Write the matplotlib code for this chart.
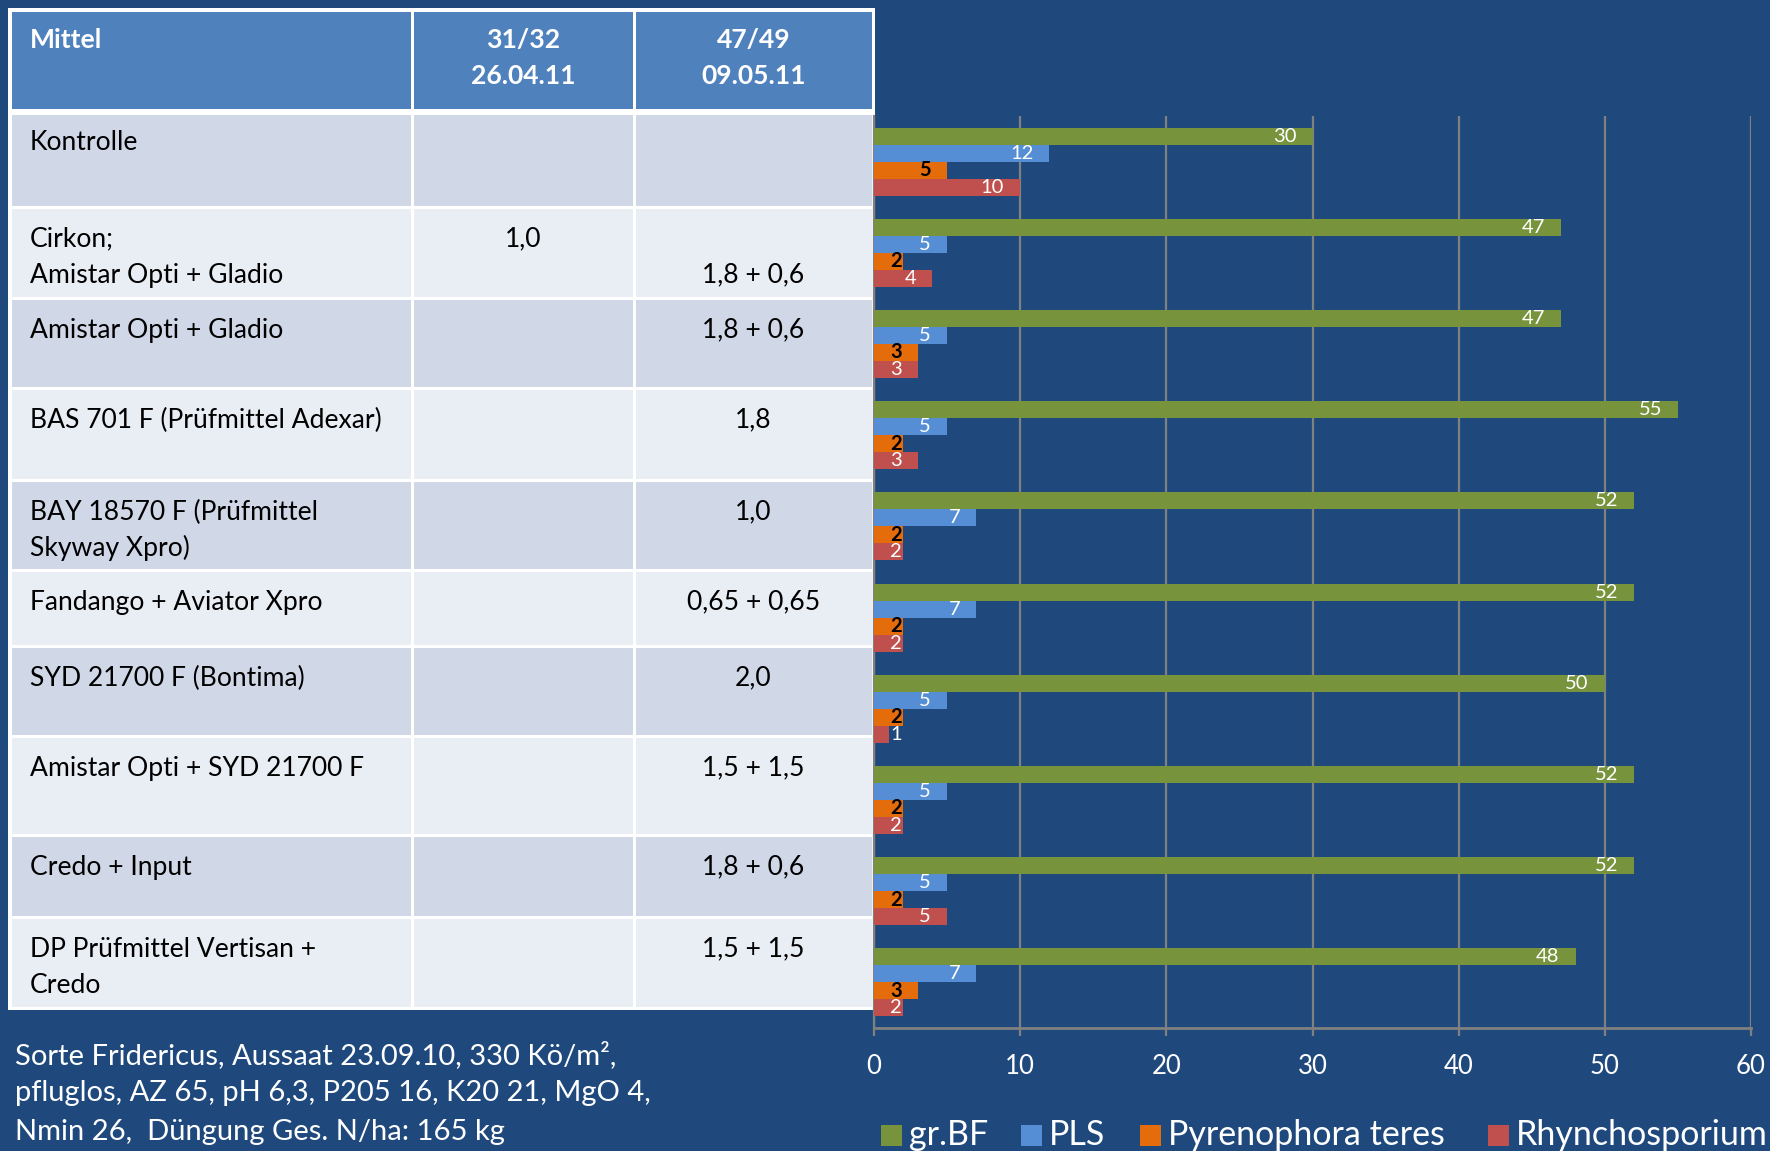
import matplotlib.pyplot as plt
from matplotlib.patches import Rectangle
import numpy as np

plt.rcParams['font.family'] = ['Lato', 'DejaVu Sans']

BG = '#1F497D'
HEADER = '#4F81BD'
ROW_DARK = '#D0D8E8'
ROW_LIGHT = '#E9EDF4'
GRID = '#808080'

# table content
header = ['Mittel', '31/32\n26.04.11', '47/49\n09.05.11']
mittel = ['Kontrolle',
          'Cirkon;\nAmistar Opti + Gladio',
          'Amistar Opti + Gladio',
          'BAS 701 F (Prüfmittel Adexar)',
          'BAY 18570 F (Prüfmittel\nSkyway Xpro)',
          'Fandango + Aviator Xpro',
          'SYD 21700 F (Bontima)',
          'Amistar Opti + SYD 21700 F',
          'Credo + Input',
          'DP Prüfmittel Vertisan +\nCredo']
dose_31_32 = ['', '1,0', '', '', '', '', '', '', '', '']
dose_47_49 = ['', '\n1,8 + 0,6', '1,8 + 0,6', '1,8', '1,0', '0,65 + 0,65',
              '2,0', '1,5 + 1,5', '1,8 + 0,6', '1,5 + 1,5']

# chart data (one value per table row)
series = ['gr.BF', 'PLS', 'Pyrenophora teres', 'Rhynchosporium']
gr_bf = [30, 47, 47, 55, 52, 52, 50, 52, 52, 48]
pls = [12, 5, 5, 5, 7, 7, 5, 5, 5, 7]
pyrenophora = [5, 2, 3, 2, 2, 2, 2, 2, 2, 3]
rhyncho = [10, 4, 3, 3, 2, 2, 1, 2, 5, 2]
colors = ['#77933C', '#558ED5', '#E46C0A', '#C0504D']

footnote = ['Sorte Fridericus, Aussaat 23.09.10, 330 Kö/m²,',
            'pfluglos, AZ 65, pH 6,3, P205 16, K20 21, MgO 4,',
            'Nmin 26,  Düngung Ges. N/ha: 165 kg']

W, H = 1770, 1151
fig = plt.figure(figsize=(W / 100, H / 100), dpi=100, facecolor=BG)

# ---- table, drawn in pixel coordinates ----
tab = fig.add_axes([0, 0, 1, 1])
tab.set_xlim(0, W)
tab.set_ylim(H, 0)
tab.axis('off')

col_edges = [10, 412, 634, 873]
row_edges = [10, 110, 207, 298, 388, 480, 570, 646, 736, 835, 917, 1008]

tab.add_patch(Rectangle((8, 8), 867, 1002, color='white', lw=0))
for r in range(len(row_edges) - 1):
    top, bot = row_edges[r], row_edges[r + 1]
    if r == 0:
        fc = HEADER
        top_in, bot_in = top + 1.5, bot - 1
    else:
        fc = ROW_DARK if r % 2 == 1 else ROW_LIGHT
        top_in = top + (5 if r == 1 else 1.5)
        bot_in = bot - 1.5
    for c in range(3):
        left, right = col_edges[c], col_edges[c + 1]
        tab.add_patch(Rectangle((left + 1.5, top_in), right - left - 3,
                                bot_in - top_in, color=fc, lw=0))


def cell_text(text, r, c, bold=False, color='black', size=19.1):
    top = row_edges[r]
    if c == 0:
        x, ha = col_edges[0] + 20, 'left'
    else:
        x, ha = (col_edges[c] + col_edges[c + 1]) / 2, 'center'
    first = 30 if r == 0 else 32
    for i, line in enumerate(text.split('\n')):
        if line:
            tab.text(x, top + first + i * 36, line, ha=ha, va='center',
                     fontsize=size, color=color,
                     fontweight='bold' if bold else 'normal')


for c, h in enumerate(header):
    cell_text(h, 0, c, bold=True, color='white')
for i in range(len(mittel)):
    cell_text(mittel[i], i + 1, 0)
    cell_text(dose_31_32[i], i + 1, 1)
    cell_text(dose_47_49[i], i + 1, 2)

for i, line in enumerate(footnote):
    tab.text(15, 1055 + i * 38.5, line, ha='left', va='center',
             fontsize=21, color='white')

# ---- bar chart ----
ax = fig.add_axes([874 / W, 1 - 1028 / H, 877 / W, 912 / H])
ax.set_facecolor('none')
y = np.arange(len(gr_bf))
h = 0.186
values = [gr_bf, pls, pyrenophora, rhyncho]
for k, (name, vals, col) in enumerate(zip(series, values, colors)):
    yk = y + (k - 1.5) * h
    ax.barh(yk, vals, height=h, color=col, label=name, zorder=3)
    for yy, v in zip(yk, vals):
        tcol = 'black' if k == 2 else 'white'
        fw = 'bold' if k == 2 else 'normal'
        if v >= 3:
            ax.annotate(str(v), xy=(v, yy), xytext=(-11.5, 0),
                        textcoords='offset points', ha='right', va='center',
                        fontsize=14.5, color=tcol, fontweight=fw, zorder=4)
        else:
            ax.annotate(str(v), xy=(0, yy), xytext=(11.5, 0),
                        textcoords='offset points', ha='left', va='center',
                        fontsize=14.5, color=tcol, fontweight=fw, zorder=4)

ax.set_xlim(0, 60)
ax.set_ylim(len(gr_bf) - 0.5, -0.5)
ax.set_xticks(range(0, 61, 10))
ax.set_yticks([])
ax.grid(axis='x', color=GRID, lw=1.6, zorder=1)
for s in ['top', 'right']:
    ax.spines[s].set_visible(False)
ax.spines['bottom'].set_color(GRID)
ax.spines['bottom'].set_linewidth(2)
ax.spines['left'].set_color(GRID)
ax.spines['left'].set_linewidth(1.6)
ax.tick_params(axis='x', colors=GRID, labelcolor='white', length=6,
               width=1.6, pad=13, labelsize=18.5)

# ---- legend, laid out by hand below the axis ----
leg_x = [881, 1021, 1140, 1488]
for name, col, lx in zip(series, colors, leg_x):
    tab.add_patch(Rectangle((lx, 1125), 21, 21, color=col, lw=0))
    tab.text(lx + 28, 1135, name, ha='left', va='center', fontsize=24.5,
             color='white')

fig.savefig('out.png', dpi=100, facecolor=BG)
